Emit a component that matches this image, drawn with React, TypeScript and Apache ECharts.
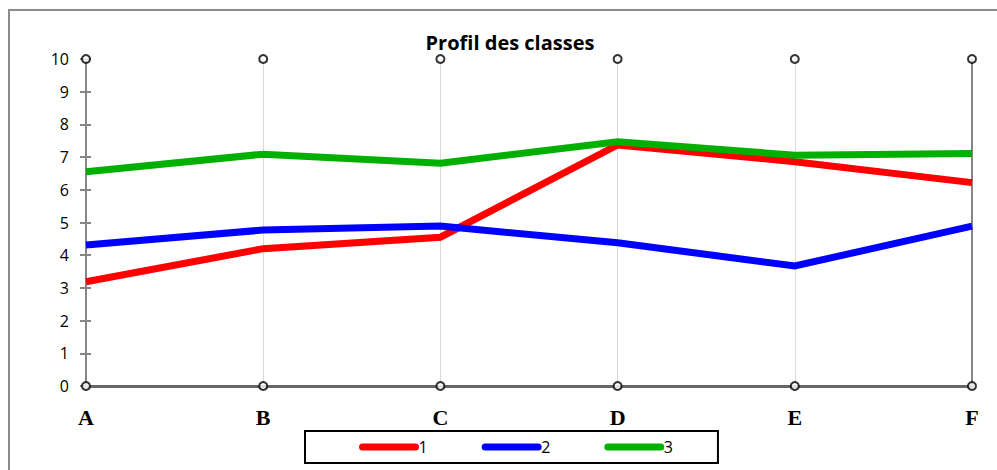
import React, { useEffect, useRef } from "react";
import * as echarts from "echarts";

const categories = ["A", "B", "C", "D", "E", "F"];
const series1 = [3.19, 4.2, 4.55, 7.37, 6.86, 6.22];
const series2 = [4.31, 4.77, 4.89, 4.38, 3.67, 4.89];
const series3 = [6.55, 7.09, 6.81, 7.47, 7.06, 7.11];
const seriesNames = ["1", "2", "3"];
const seriesColors = ["#ff0000", "#0000ff", "#00b000"];
const yMin = 0;
const yMax = 10;
const yInterval = 1;
const title = "Profil des classes";

export default function App() {
  const ref = useRef<HTMLDivElement>(null);
  useEffect(() => {
    document.body.style.margin = "0";
    const chart = echarts.init(ref.current!, undefined, { renderer: "svg" });
    const values = [series1, series2, series3];
    const lineSeries = values.map((v, i) => ({
      name: seriesNames[i],
      type: "line",
      data: v,
      symbol: "none",
      lineStyle: { color: seriesColors[i], width: 7, cap: "butt", join: "miter" },
      itemStyle: { color: seriesColors[i] },
      z: 3,
    }));
    const markerStyle = {
      color: "#fff",
      borderColor: "#000",
      borderWidth: 2,
    };
    chart.setOption({
      animation: false,
      backgroundColor: "#fff",
      title: {
        text: title,
        left: 510,
        textAlign: "center",
        top: 32,
        padding: 0,
        textStyle: {
          fontFamily: "Open Sans",
          fontWeight: "bold",
          fontSize: 20,
          color: "#000",
        },
      },
      graphic: [
        {
          type: "polyline",
          shape: { points: [[9, 470], [9, 10], [997, 10]] },
          style: { stroke: "#8c8c8c", lineWidth: 2, fill: "none" },
        },
      ],
      legend: {
        data: seriesNames,
        left: 305,
        top: 431,
        width: 412,
        borderColor: "#000",
        borderWidth: 2,
        padding: [8, 45, 8, 54],
        itemGap: 54,
        itemWidth: 53,
        itemHeight: 8,
        itemStyle: { opacity: 0 },
        lineStyle: { width: 7, cap: "round" },
        textStyle: { fontFamily: "Open Sans", fontSize: 16, color: "#000", padding: [0, 0, 0, -2] },
      },
      grid: { left: 86, right: 25, top: 59, bottom: 84 },
      xAxis: [
        {
          type: "category",
          data: categories,
          boundaryGap: false,
          axisLine: { show: true, lineStyle: { color: "#666", width: 3 } },
          axisTick: { show: false },
          splitLine: { show: true, lineStyle: { color: "#d9d9d9", width: 1 } },
          axisLabel: {
            margin: 20,
            fontFamily: "Liberation Serif",
            fontWeight: "bold",
            fontSize: 22,
            color: "#000",
          },
        },
        {
          type: "category",
          data: categories,
          boundaryGap: false,
          position: "top",
          axisLine: { show: true, lineStyle: { color: "#666", width: 3 } },
          axisTick: { show: false },
          axisLabel: { show: false },
        },
      ],
      yAxis: [
        {
          type: "value",
          min: yMin,
          max: yMax,
          interval: yInterval,
          axisLine: { show: true, lineStyle: { color: "#868686", width: 2 } },
          axisTick: { show: true, length: 6, lineStyle: { color: "#868686", width: 2 } },
          splitLine: { show: false },
          axisLabel: {
            margin: 17,
            fontFamily: "Open Sans",
            fontSize: 16,
            color: "#000",
          },
        },
        {
          type: "value",
          min: yMin,
          max: yMax,
          interval: yInterval,
          position: "left",
          axisLine: { show: false },
          axisTick: { show: true, inside: true, length: 5, lineStyle: { color: "#868686", width: 2 } },
          splitLine: { show: false },
          axisLabel: { show: false },
        },
        {
          type: "value",
          min: yMin,
          max: yMax,
          interval: yInterval,
          position: "right",
          axisLine: { show: true, lineStyle: { color: "#868686", width: 2 } },
          axisTick: { show: false },
          splitLine: { show: false },
          axisLabel: { show: false },
        },
      ],
      series: [
        ...lineSeries,
        {
          name: "axisMarkersBottom",
          type: "scatter",
          data: categories.map(() => yMin),
          symbol: "circle",
          symbolSize: 8,
          itemStyle: markerStyle,
          z: 5,
          silent: true,
        },
        {
          name: "axisMarkersTop",
          type: "scatter",
          data: categories.map(() => yMax),
          symbol: "circle",
          symbolSize: 8,
          itemStyle: markerStyle,
          z: 5,
          silent: true,
        },
      ],
    });
    return () => chart.dispose();
  }, []);
  return <div ref={ref} style={{ width: 997, height: 470 }} />;
}
